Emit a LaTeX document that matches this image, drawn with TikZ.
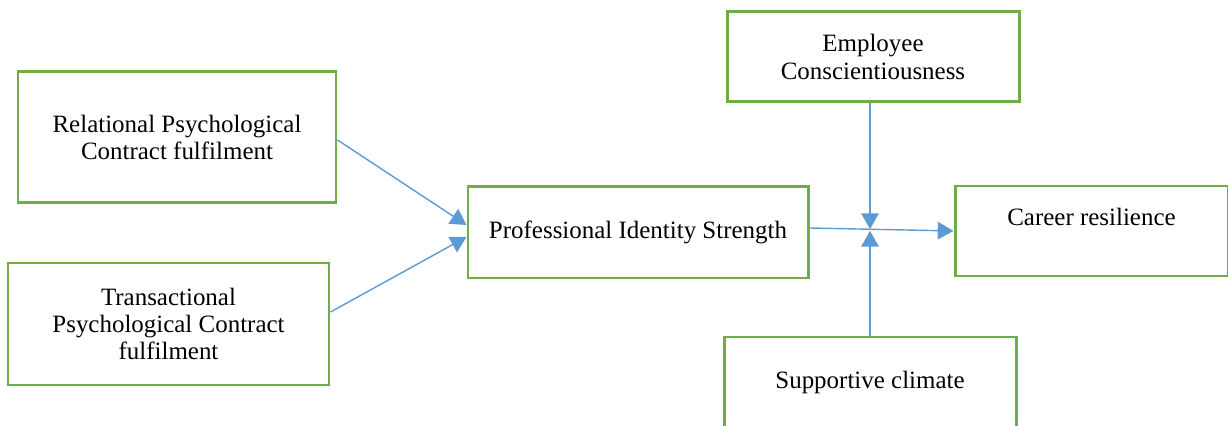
\documentclass[tikz,border=0pt]{standalone}
\usepackage{fontspec}
\setmainfont{Liberation Serif}
\usetikzlibrary{arrows.meta}

\definecolor{boxgreen}{RGB}{112,173,71}
\definecolor{linkblue}{RGB}{91,155,213}

\begin{document}
\begin{tikzpicture}[
	box/.style = { draw=boxgreen, line width=1.7pt, align=center,
		font=\fontsize{14.2pt}{15.5pt}\selectfont, inner sep=0pt },
	link/.style = { draw=linkblue, line width=0.8pt,
		-{Triangle[width=10pt,length=9pt]} }]

  \clip (0,0) rectangle (24.56,8.52);

  % boxes
  \node[box, minimum width=6.36cm, minimum height=2.62cm] (rel) at (3.54,5.77)
    {Relational Psychological\\Contract fulfilment};
  \node[box, minimum width=6.42cm, minimum height=2.44cm] (trans) at (3.37,2.04)
    {Transactional\\Psychological Contract\\fulfilment};
  \node[box, minimum width=6.8cm, minimum height=1.82cm] (pis) at (12.76,3.87)
    {Professional Identity Strength};
  \node[box, minimum width=5.84cm, minimum height=1.8cm] (emp) at (17.46,7.38)
    {Employee\\Conscientiousness};
  \node[box, minimum width=5.46cm, minimum height=1.8cm] (car) at (21.83,3.9) {};
  \node[font=\fontsize{14.2pt}{15.5pt}\selectfont] (cartext) at (21.83,4.18)
    {Career resilience};
  \node[box, minimum width=5.84cm, minimum height=1.84cm] (sup) at (17.4,0.86)
    {Supportive climate};

  % connectors
  \coordinate (meet) at (17.4,3.92);
  \draw[link] (rel.east |- 0,5.72) -- (pis.west |- 0,4.02);
  \draw[link] (trans.east |- 0,2.28) -- (pis.west |- 0,3.78);
  \draw[link] (pis.east |- 0,3.96) -- (car.west |- 0,3.9);
  \draw[link] (emp.south -| meet) -- ([yshift=0.5pt]meet);
  \draw[link] (sup.north -| meet) -- ([yshift=-0.5pt]meet);
\end{tikzpicture}
\end{document}
